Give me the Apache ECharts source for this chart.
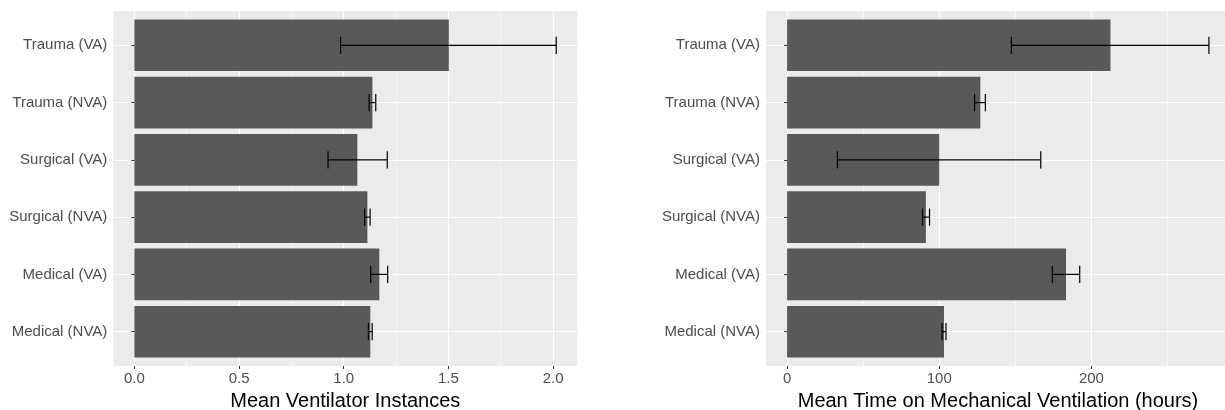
<!DOCTYPE html>
<html>
<head>
<meta charset="utf-8">
<title>Ventilation by group</title>
<script src="https://cdn.jsdelivr.net/npm/echarts@6/dist/echarts.min.js"></script>
<style>
  html, body { margin: 0; padding: 0; background: #fff; }
  #chart { width: 1225px; height: 410px; }
</style>
</head>
<body>
<div id="chart"></div>
<script>
// groups, top to bottom as drawn
const groups = ['Trauma (VA)', 'Trauma (NVA)', 'Surgical (VA)', 'Surgical (NVA)', 'Medical (VA)', 'Medical (NVA)']

// left panel: mean ventilator instances
const instMean = [1.502, 1.137, 1.065, 1.113, 1.170, 1.127]
const instLow = [0.985, 1.121, 0.925, 1.100, 1.129, 1.118]
const instHigh = [2.015, 1.153, 1.208, 1.126, 1.210, 1.136]
const instTicks = [0, 0.5, 1, 1.5, 2]
const instMinor = [0.25, 0.75, 1.25, 1.75]

// right panel: mean time on mechanical ventilation (hours)
const hoursMean = [212.5, 127.0, 100.0, 91.2, 183.3, 103.1]
const hoursLow = [147.4, 123.2, 33.1, 89.0, 174.3, 101.8]
const hoursHigh = [277.2, 130.3, 166.7, 93.6, 192.3, 104.4]
const hoursTicks = [0, 100, 200]
const hoursMinor = [50, 150, 250]

const FONT = '"Liberation Sans", Arial, Helvetica, sans-serif'
const positions = groups.map((g, i) => i + 1)

// ggplot-like default expansion of 5% on a continuous axis
const expandRange = (hi) => ({ min: -0.05 * hi, max: 1.05 * hi })

const barItem = (params, api) => {
  const pos = api.value(1)
  const start = api.coord([0, pos])
  const end = api.coord([api.value(0), pos])
  const h = api.size([0, 0.9])[1]
  return {
    type: 'rect',
    shape: { x: start[0], y: start[1] - h / 2, width: end[0] - start[0], height: h },
    style: { fill: '#595959' }
  }
}

const errItem = (params, api) => {
  const pos = api.value(2)
  const a = api.coord([api.value(0), pos])
  const b = api.coord([api.value(1), pos])
  const cap = api.size([0, 0.3])[1] / 2
  const style = { stroke: '#000', lineWidth: 1.2 }
  return {
    type: 'group',
    children: [
      { type: 'line', shape: { x1: a[0], y1: a[1], x2: b[0], y2: b[1] }, style },
      { type: 'line', shape: { x1: a[0], y1: a[1] - cap, x2: a[0], y2: a[1] + cap }, style },
      { type: 'line', shape: { x1: b[0], y1: b[1] - cap, x2: b[0], y2: b[1] + cap }, style }
    ]
  }
}

const majorX = (gridIndex, range, ticks, name, fmt) => ({
  type: 'value',
  gridIndex,
  position: 'bottom',
  min: range.min,
  max: range.max,
  name,
  nameLocation: 'middle',
  nameGap: 23,
  nameTextStyle: { color: '#000', fontSize: 20, fontFamily: FONT },
  axisLine: { show: false },
  axisTick: { show: true, length: 3, customValues: ticks, lineStyle: { color: '#333', width: 1 } },
  axisLabel: { customValues: ticks, margin: 5.5, color: '#4d4d4d', fontSize: 15, fontFamily: FONT, formatter: fmt },
  splitLine: { show: true, lineStyle: { color: '#fff', width: 1.1 } }
})

const minorX = (gridIndex, range, ticks) => ({
  type: 'value',
  gridIndex,
  position: 'top',
  min: range.min,
  max: range.max,
  axisLine: { show: false },
  axisTick: { show: false, customValues: ticks },
  axisLabel: { show: false },
  splitLine: { show: true, lineStyle: { color: '#fff', width: 0.55 } }
})

const catY = (gridIndex) => ({
  type: 'value',
  gridIndex,
  inverse: true,
  min: 0.4,
  max: groups.length + 0.6,
  axisLine: { show: false },
  axisTick: { show: true, length: 3, customValues: positions, lineStyle: { color: '#333', width: 1 } },
  axisLabel: {
    customValues: positions,
    margin: 6,
    color: '#4d4d4d',
    fontSize: 15,
    fontFamily: FONT,
    formatter: (v) => groups[Math.round(v) - 1]
  },
  splitLine: { show: true, lineStyle: { color: '#fff', width: 1.1 } }
})

const instRange = expandRange(Math.max(...instHigh))
const hoursRange = expandRange(Math.max(...hoursHigh))

const chart = echarts.init(document.getElementById('chart'))

const gridBase = { top: 11, width: 464, height: 355, show: true, backgroundColor: '#ebebeb', borderWidth: 0, containLabel: false, outerBoundsMode: 'none' }

const option = {
  animation: false,
  textStyle: { fontFamily: FONT },
  grid: [
    { ...gridBase, left: 113.3 },
    { ...gridBase, left: 766 }
  ],
  xAxis: [
    minorX(0, instRange, instMinor),
    majorX(0, instRange, instTicks, 'Mean Ventilator Instances', (v) => v.toFixed(1)),
    minorX(1, hoursRange, hoursMinor),
    majorX(1, hoursRange, hoursTicks, 'Mean Time on Mechanical Ventilation (hours)', (v) => String(Math.round(v)))
  ],
  yAxis: [catY(0), catY(1)],
  series: [
    {
      type: 'custom',
      xAxisIndex: 1,
      yAxisIndex: 0,
      renderItem: barItem,
      data: instMean.map((v, i) => [v, positions[i]])
    },
    {
      type: 'custom',
      xAxisIndex: 1,
      yAxisIndex: 0,
      z: 3,
      renderItem: errItem,
      encode: { x: [0, 1], y: 2 },
      data: instLow.map((v, i) => [v, instHigh[i], positions[i]])
    },
    {
      type: 'custom',
      xAxisIndex: 3,
      yAxisIndex: 1,
      renderItem: barItem,
      data: hoursMean.map((v, i) => [v, positions[i]])
    },
    {
      type: 'custom',
      xAxisIndex: 3,
      yAxisIndex: 1,
      z: 3,
      renderItem: errItem,
      encode: { x: [0, 1], y: 2 },
      data: hoursLow.map((v, i) => [v, hoursHigh[i], positions[i]])
    }
  ]
}

chart.setOption(option)
</script>
</body>
</html>
